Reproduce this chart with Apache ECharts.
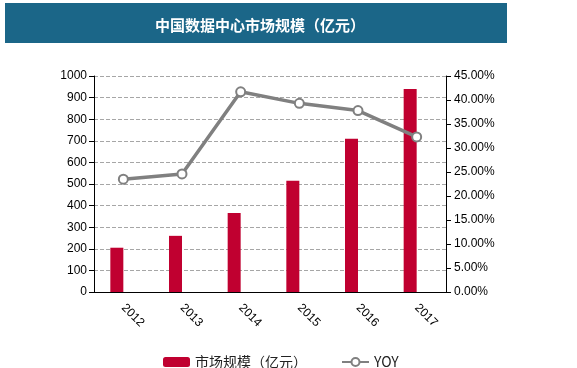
<!DOCTYPE html>
<html><head><meta charset="utf-8">
<script src="https://cdn.jsdelivr.net/npm/echarts@6/dist/echarts.min.js"></script>
<style>html,body{margin:0;padding:0;background:#fff}#c{width:577px;height:368px}</style>
</head><body><div id="c"></div>
<script>
const categories = ['2012','2013','2014','2015','2016','2017'];
const marketSize = [205, 260, 366, 515, 710, 940];
const yoy = [23.5, 24.6, 41.7, 39.3, 37.8, 32.3];
const leftTicks = {min:0, max:1000, interval:100};
const rightTicks = {min:0, max:45, interval:5};

const chart = echarts.init(document.getElementById('c'), null, {renderer:'canvas'});
chart.setOption({
  animation:false,
  graphic:[{type:'rect', left:5, top:3, shape:{width:502, height:40}, style:{fill:'#1B6688'}}],
  title:{text:'中国数据中心市场规模（亿元）', left:255, top:13, textAlign:'center',
    textStyle:{color:'#fff', fontSize:15, fontWeight:'bold', fontFamily:'Noto Sans CJK SC'}},
  legend:{left:158, top:350, itemWidth:27, itemHeight:10, itemGap:34,
    textStyle:{fontSize:14, color:'#222', fontFamily:'Noto Sans CJK SC'},
    data:['市场规模（亿元）','YOY']},
  grid:{left:94, right:131, top:76, bottom:76},
  xAxis:{type:'category', data:categories,
    axisLine:{lineStyle:{color:'#000'}}, axisTick:{length:5, lineStyle:{color:'#000'}},
    axisLabel:{rotate:-45, color:'#000', fontSize:12, fontFamily:'Liberation Sans', margin:14}},
  yAxis:[
    {type:'value', min:leftTicks.min, max:leftTicks.max, interval:leftTicks.interval,
     axisLine:{show:true, lineStyle:{color:'#000'}}, axisTick:{show:true, length:5, lineStyle:{color:'#000'}},
     axisLabel:{color:'#000', fontSize:12, fontFamily:'Liberation Sans', margin:7, formatter:v=>String(v)},
     splitLine:{lineStyle:{type:'dashed', color:'#a6a6a6'}}},
    {type:'value', min:rightTicks.min, max:rightTicks.max, interval:rightTicks.interval, position:'right',
     axisLine:{show:true, lineStyle:{color:'#000'}}, axisTick:{show:true, length:5, lineStyle:{color:'#000'}},
     axisLabel:{color:'#000', fontSize:12, fontFamily:'Liberation Sans', margin:8,
       formatter:v=>v.toFixed(2)+'%'},
     splitLine:{show:false}}
  ],
  series:[
    {name:'市场规模（亿元）', type:'bar', data:marketSize, barWidth:13, barGap:'0%',
     itemStyle:{color:'#C00030'}},
    {name:'_empty', type:'bar', data:categories.map(()=>null), barWidth:13},
    {name:'YOY', type:'line', yAxisIndex:1, data:yoy, symbol:'emptyCircle', symbolSize:9,
     lineStyle:{color:'#808080', width:3.5}, itemStyle:{color:'#808080', borderWidth:2.5}}
  ]
});
</script></body></html>
